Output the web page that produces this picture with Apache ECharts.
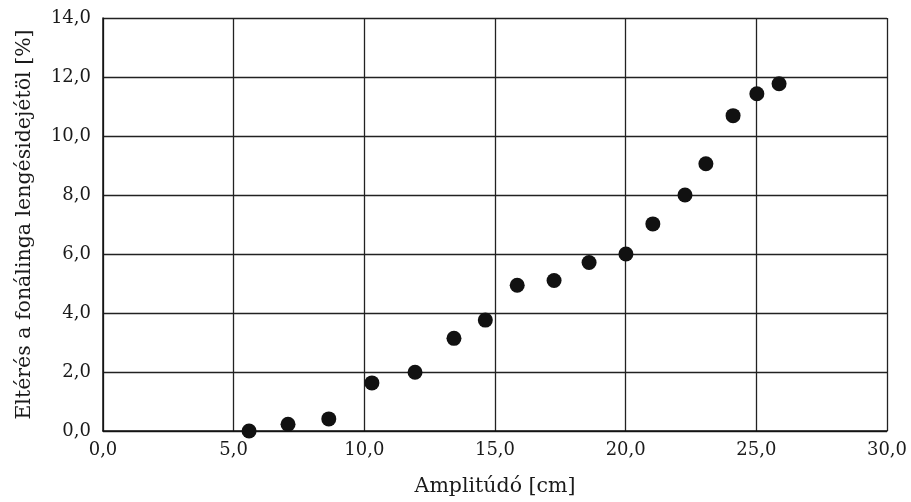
<!DOCTYPE html>
<html><head><meta charset="utf-8">
<script src="https://cdn.jsdelivr.net/npm/echarts@6/dist/echarts.min.js"></script>
<style>html,body{margin:0;padding:0;background:#fff}#c{width:911px;height:502px}</style>
</head><body><div id="c"></div>
<script>
const amplitude = [5.59, 7.08, 8.64, 10.29, 11.94, 13.43, 14.63, 15.85, 17.26, 18.6, 20.01, 21.04, 22.27, 23.07, 24.11, 25.02, 25.87];
const deviation = [0.0, 0.23, 0.41, 1.63, 1.99, 3.14, 3.76, 4.94, 5.10, 5.71, 6.0, 7.02, 8.0, 9.06, 10.69, 11.43, 11.77];
const xName = 'Amplitúdó [cm]';
const yName = 'Eltérés a fonálinga lengésidejétöl [%]';
const fmt = v => v.toFixed(1).replace('.', ',');
const font = 'DejaVu Serif';
const chart = echarts.init(document.getElementById('c'), null, {renderer: 'canvas'});
chart.setOption({
  animation: false,
  grid: {left: 103, right: 24, top: 18, bottom: 71},
  xAxis: {
    type: 'value', min: 0, max: 30, interval: 5,
    name: xName, nameLocation: 'middle', nameGap: 45,
    nameTextStyle: {fontFamily: font, fontSize: 20.5, color: '#1a1a1a'},
    axisLine: {show: true, lineStyle: {color: '#111', width: 1.5}},
    axisTick: {show: false},
    axisLabel: {formatter: fmt, fontFamily: font, fontSize: 18, color: '#1a1a1a', margin: 10},
    splitLine: {show: true, lineStyle: {color: '#222', width: 1.3}}
  },
  yAxis: {
    type: 'value', min: 0, max: 14, interval: 2,
    name: yName, nameLocation: 'middle', nameGap: 68,
    nameTextStyle: {fontFamily: font, fontSize: 20.5, color: '#1a1a1a'},
    axisLine: {show: true, lineStyle: {color: '#111', width: 1.5}},
    axisTick: {show: false},
    axisLabel: {formatter: fmt, fontFamily: font, fontSize: 18, color: '#1a1a1a', margin: 12},
    splitLine: {show: true, lineStyle: {color: '#222', width: 1.3}}
  },
  series: [{
    type: 'scatter',
    data: amplitude.map((x, i) => [x, deviation[i]]),
    symbol: 'circle', symbolSize: 15,
    itemStyle: {color: '#111', opacity: 1}
  }]
});
</script></body></html>
